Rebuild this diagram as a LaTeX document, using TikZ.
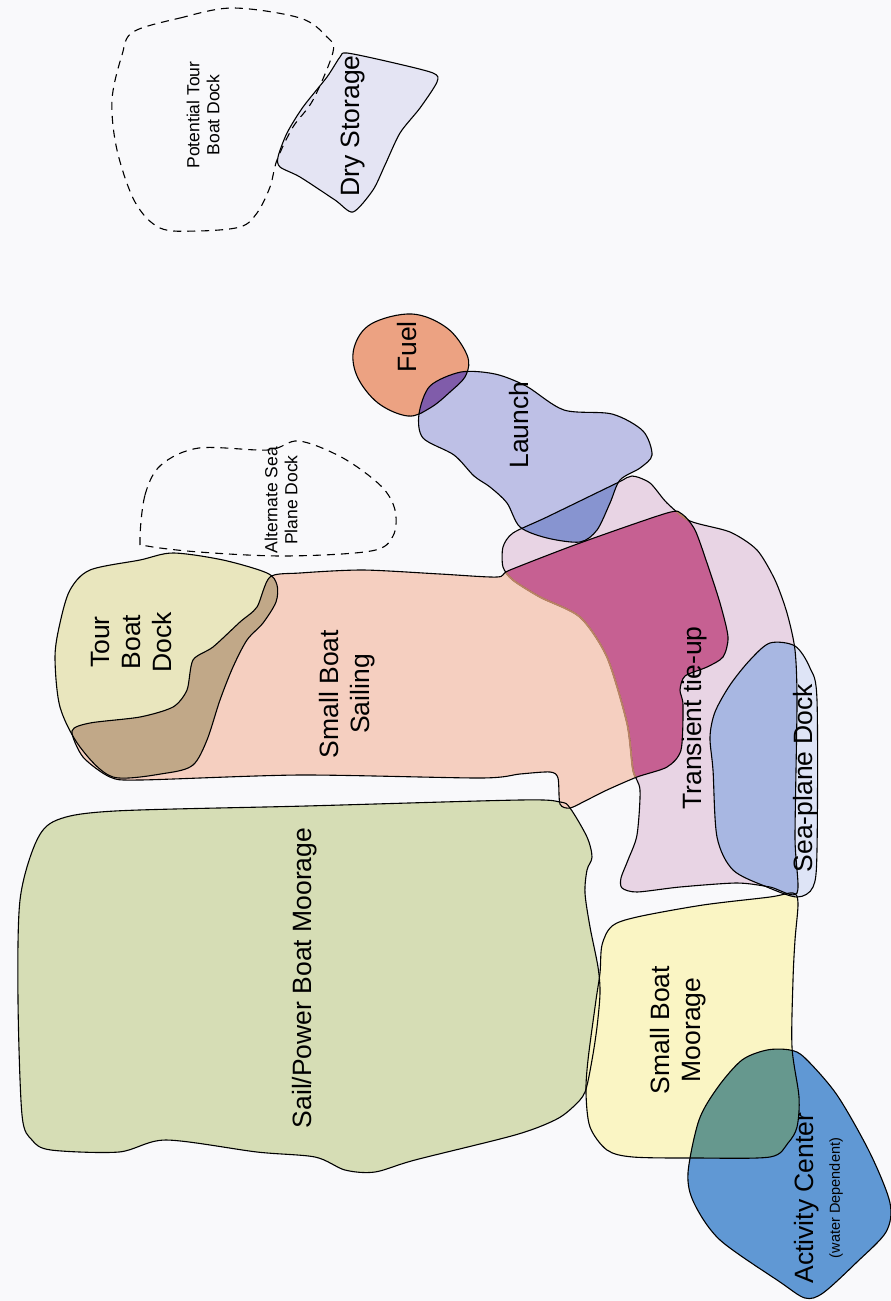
\documentclass[tikz,border=0pt]{standalone}
\usepackage{fontspec}
\setmainfont{Liberation Sans}
\definecolor{bgc}{RGB}{249,249,251}
\definecolor{cSPBM}{RGB}{214,221,181}
\definecolor{cSBS}{RGB}{245,207,192}
\definecolor{cTBD}{RGB}{233,230,190}
\definecolor{cBrown}{RGB}{193,168,136}
\definecolor{cTT}{RGB}{232,212,228}
\definecolor{cMag}{RGB}{198,96,146}
\definecolor{cSPD}{RGB}{222,228,246}
\definecolor{cSPDTT}{RGB}{168,183,226}
\definecolor{cLaunch}{RGB}{190,192,230}
\definecolor{cLaunchTT}{RGB}{135,148,208}
\definecolor{cFuel}{RGB}{236,162,130}
\definecolor{cFuelL}{RGB}{128,92,170}
\definecolor{cDry}{RGB}{228,228,243}
\definecolor{cSBM}{RGB}{250,245,196}
\definecolor{cAC}{RGB}{96,152,212}
\definecolor{cACSBM}{RGB}{102,152,142}
\definecolor{cEdge}{RGB}{185,130,100}
\def\pSPBM{plot[smooth cycle,tension=0.5] coordinates {(36,842) (57,820) (115,811) (306,806) (520,800) (560,802) (570,808) (587,837) (592,857) (587,870) (585,893) (590,927) (598,967) (600,993) (597,1027) (592,1060) (585,1092) (573,1107) (555,1120) (515,1135) (415,1160) (375,1172) (345,1170) (315,1157) (257,1152) (166,1140) (119,1152) (51,1150) (32,1140) (22,1115) (18,1000) (20,900)}}
\def\pSBS{plot[smooth cycle,tension=0.45] coordinates {(270,577) (300,573) (363,570) (440,574) (497,577) (510,570) (580,543) (667,513) (682,514) (695,530) (707,563) (720,603) (728,637) (723,657) (707,667) (685,676) (680,690) (683,705) (681,750) (667,767) (637,777) (607,790) (587,800) (570,808) (560,804) (558,778) (550,772) (520,774) (480,778) (300,775) (140,780) (110,777) (83,757) (72,731) (90,723) (140,717) (173,707) (187,690) (193,660) (213,647) (240,622) (257,607)}}
\def\pTBD{plot[smooth cycle,tension=0.5] coordinates {(90,570) (140,560) (173,553) (223,560) (267,573) (277,585) (276,602) (263,623) (247,640) (233,667) (220,700) (207,740) (193,765) (167,773) (113,777) (80,747) (60,707) (55,657) (60,623) (70,590)}}
\def\pTT{plot[smooth cycle,tension=0.45] coordinates {(503,547) (513,533) (547,517) (617,483) (632,476) (650,483) (667,503) (690,521) (730,532) (757,550) (775,580) (787,613) (795,650) (797,703) (795,837) (797,893) (770,887) (737,883) (680,887) (637,892) (622,888) (621,878) (628,860) (637,835) (640,790) (633,770) (627,723) (607,657) (580,617) (540,597) (513,580) (503,567)}}
\def\pSPD{plot[smooth cycle,tension=0.5] coordinates {(770,643) (795,646) (810,668) (817,700) (817,850) (813,887) (797,897) (767,887) (733,870) (717,837) (713,770) (710,737) (715,712) (730,685) (750,660)}}
\def\pLaunch{plot[smooth cycle,tension=0.5] coordinates {(419,414) (430,386) (461,372) (495,374) (526,386) (564,410) (612,414) (643,431) (652,455) (640,468) (620,480) (610,503) (597,530) (580,542) (547,538) (520,527) (507,503) (490,487) (474,476) (454,455) (423,438)}}
\def\pFuel{plot[smooth cycle,tension=0.6] coordinates {(354,348) (371,324) (412,314) (447,328) (467,355) (466,375) (450,392) (430,408) (408,416) (378,403) (357,376)}}
\def\pDry{plot[smooth cycle,tension=0.45] coordinates {(347,53) (390,62) (433,73) (437,82) (420,108) (400,133) (385,165) (373,190) (353,212) (335,200) (300,177) (280,167) (278,157) (287,133) (303,107) (327,77) (340,57)}}
\def\pPot{plot[smooth cycle,tension=0.55] coordinates {(133,32) (180,18) (233,8) (300,18) (327,37) (333,52) (313,100) (293,127) (277,160) (270,187) (257,213) (240,227) (197,231) (160,228) (135,202) (117,150) (112,100) (122,55)}}
\def\pAlt{plot[smooth cycle,tension=0.55] coordinates {(140,541) (145,495) (161,465) (199,448) (268,450) (299,441) (343,458) (381,486) (395,510) (393,536) (371,551) (285,556) (199,552) (147,546)}}
\def\pSBM{plot[smooth cycle,tension=0.5] coordinates {(602,945) (612,926) (637,917) (703,905) (770,897) (793,893) (798,903) (795,940) (793,980) (792,1047) (799,1097) (797,1127) (788,1143) (770,1157) (697,1158) (633,1157) (607,1150) (590,1127) (586,1093) (588,1060) (596,1000) (600,973)}}
\def\pAC{plot[smooth cycle,tension=0.5] coordinates {(767,1050) (790,1050) (805,1058) (837,1095) (870,1153) (890,1203) (886,1232) (857,1262) (823,1293) (805,1298) (780,1282) (720,1240) (694,1203) (688,1173) (699,1120) (718,1087) (742,1060)}}
\tikzset{
  outl/.style={draw=black, line width=1.1pt},
  dsh/.style={draw=black, line width=1.1pt, dash pattern=on 8pt off 6pt},
  big/.style={rotate=90, align=center, inner sep=0pt, font=\fontsize{26.5}{31}\selectfont},
  small/.style={rotate=90, align=center, inner sep=0pt, font=\fontsize{17.5}{20}\selectfont},
}
\begin{document}
\begin{tikzpicture}[x=1pt,y=-1pt]
\fill[bgc] (0,0) rectangle (891,1301);
\useasboundingbox (0,0) rectangle (891,1301);
% base fills
\fill[cSPBM] \pSPBM;
\fill[cSBM] \pSBM;
\fill[cAC] \pAC;
\fill[cTBD] \pTBD;
\fill[cTT] \pTT;
\fill[cSBS] \pSBS;
\fill[cSPD] \pSPD;
\fill[cLaunch] \pLaunch;
\fill[cFuel] \pFuel;
\fill[cDry] \pDry;
% overlaps
\begin{scope}\clip \pSBS; \fill[cBrown] \pTBD; \fill[cMag] \pTT; \end{scope}
\begin{scope}\clip \pTT; \fill[cSPDTT] \pSPD; \fill[cLaunchTT] \pLaunch; \end{scope}
\begin{scope}\clip \pLaunch; \fill[cFuelL] \pFuel; \end{scope}
\begin{scope}\clip \pSBM; \fill[cACSBM] \pAC; \end{scope}
% outlines
\draw[outl] \pTT;
\begin{scope}\clip \pSBS; \draw[cEdge, line width=1.8pt] \pTT; \end{scope}
\draw[outl] \pSPBM;
\draw[outl] \pSBM;
\draw[outl] \pAC;
\draw[outl] \pTBD;
\draw[outl] \pSBS;
\draw[outl] \pSPD;
\draw[outl] \pLaunch;
\draw[outl] \pFuel;
\draw[outl] \pDry;
\draw[dsh] \pPot;
\draw[dsh] \pAlt;
% labels
\node[small] (lpot) at (203,115) {Potential Tour\\Boat Dock};
\node[big] (ldry) at (353,126) {Dry Storage};
\node[big] (lfuel) at (407,347) {Fuel};
\node[big] (llaunch) at (519,425) {Launch};
\node[small] (lalt) at (281,500) {Alternate Sea\\Plane Dock};
\node[big] (ltbd) at (132,642) {Tour\\Boat\\Dock};
\node[big] (lsbs) at (347,694) {Small Boat\\Sailing};
\node[big] (ltt) at (695,718) {Transient tie-up};
\node[big] (lspd) at (806,778) {Sea-plane Dock};
\node[big] (lspbm) at (305,978) {Sail/Power Boat Moorage};
\node[big] (lsbm) at (678,1030) {Small Boat\\Moorage};
\node[big] (lac) at (807,1198) {Activity Center};
\node[rotate=90, inner sep=0pt, font=\fontsize{14.5}{16}\selectfont] (lwd) at (836,1198) {(water Dependent)};
\end{tikzpicture}
\end{document}
